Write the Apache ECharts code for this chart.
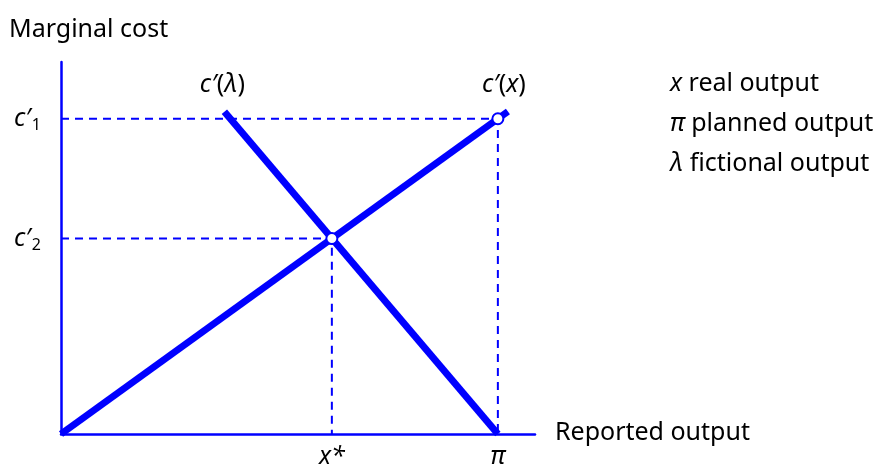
<!DOCTYPE html>
<html>
<head>
<meta charset="utf-8">
<script src="https://cdn.jsdelivr.net/npm/echarts@6/dist/echarts.min.js"></script>
<style>
  html, body { margin: 0; padding: 0; background: #fff; }
  #chart { width: 888px; height: 466px; }
</style>
</head>
<body>
<div id="chart"></div>
<script>
// data (units: planned output pi = 1, c'1 = 1)
const realCost = [[0, 0], [1.023, 1.023]]            // c'(x)
const fictionalCost = [[0.374, 1.022], [1, 0]]       // c'(λ)
const equilibrium = [[1, 1], [0.62, 0.62]]           // open circles
const dropC1 = [[0, 1], [1, 1], [1, 0]]
const dropC2 = [[0, 0.62], [0.62, 0.62], [0.62, 0]]
const notes = ['x real output', 'π planned output', 'λ fictional output']

const blue = '#0000ff'
const font = 'Noto Sans'
const italic = { fontStyle: 'italic', fontSize: 25, fontFamily: font, color: '#000' }
const plain = { fontSize: 25, fontFamily: font, color: '#000' }
const sub = { fontSize: 16, fontFamily: font, color: '#000', padding: [13, 0, 0, 1] }

const chart = echarts.init(document.getElementById('chart'))

const option = {
  animation: false,
  grid: { left: 61, top: 62, width: 474, height: 372 },
  xAxis: {
    type: 'value', min: 0, max: 1.085,
    axisLine: { show: true, lineStyle: { color: blue, width: 2.5 } },
    axisTick: { show: false },
    axisLabel: { show: false },
    splitLine: { show: false },
  },
  yAxis: {
    type: 'value', min: 0, max: 1.18,
    axisLine: { show: true, lineStyle: { color: blue, width: 2.5 } },
    axisTick: { show: false },
    axisLabel: { show: false },
    splitLine: { show: false },
  },
  graphic: [
    { type: 'text', left: 9, top: 17, style: { text: 'Marginal cost', ...plain } },
    { type: 'text', left: 555, top: 420, style: { text: 'Reported output', ...plain } },
    ...notes.map((n, i) => ({
      type: 'text', left: 670, top: 71 + i * 40,
      style: {
        text: `{i|${n[0]}}{p|${n.slice(1)}}`,
        rich: { i: italic, p: plain },
      },
    })),
  ],
  series: [
    {
      type: 'line', data: dropC1, symbol: 'none', z: 1,
      lineStyle: { color: blue, width: 2, type: [8, 6] },
    },
    {
      type: 'line', data: dropC2, symbol: 'none', z: 1,
      lineStyle: { color: blue, width: 2, type: [8, 6] },
    },
    {
      type: 'line', data: realCost, symbol: 'none', z: 2,
      lineStyle: { color: blue, width: 7 },
    },
    {
      type: 'line', data: fictionalCost, symbol: 'none', z: 2,
      lineStyle: { color: blue, width: 7 },
    },
    {
      type: 'scatter', data: equilibrium, symbol: 'circle', symbolSize: 11, z: 3,
      itemStyle: { color: '#fff', borderColor: blue, borderWidth: 2, opacity: 1 },
    },
    {
      // text annotations anchored to data
      type: 'scatter', symbolSize: 0, z: 4, silent: true,
      itemStyle: { opacity: 1 },
      label: {
        show: true,
        rich: { i: italic, p: plain, s: sub },
      },
      data: [
        { value: [0, 1], label: { position: 'left', distance: 20, formatter: '{i|c′}{s|1}' } },
        { value: [0, 0.62], label: { position: 'left', distance: 20, formatter: '{i|c′}{s|2}' } },
        { value: [0.374, 1.022], label: { position: 'top', distance: 14, offset: [-2, 0], formatter: '{i|c′}{p|(}{i|λ}{p|)}' } },
        { value: [1.023, 1.023], label: { position: 'top', distance: 14, offset: [-4, 0], formatter: '{i|c′}{p|(}{i|x}{p|)}' } },
        { value: [0.62, 0], label: { position: 'bottom', distance: 10, formatter: '{i|x*}' } },
        { value: [1, 0], label: { position: 'bottom', distance: 10, formatter: '{i|π}' } },
      ],
    },
  ],
}

chart.setOption(option)
</script>
</body>
</html>
